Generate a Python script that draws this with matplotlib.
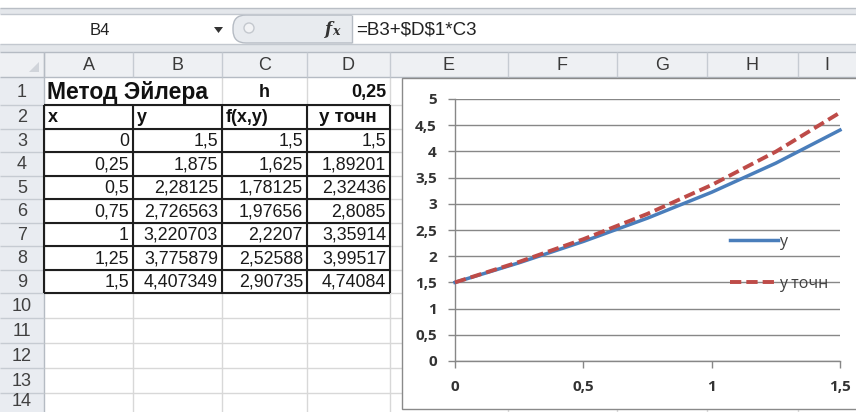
import numpy as np
import matplotlib.pyplot as plt
from matplotlib.patches import Rectangle, FancyBboxPatch, Circle, Polygon
from matplotlib.ticker import FuncFormatter

plt.rcParams['font.family'] = ['Liberation Sans', 'DejaVu Sans']

# метод Эйлера, шаг h
h = 0.25
x_vals = [0, 0.25, 0.5, 0.75, 1, 1.25, 1.5]
y_euler = [1.5, 1.875, 2.28125, 2.726563, 3.220703, 3.775879, 4.407349]
f_xy = [1.5, 1.625, 1.78125, 1.97656, 2.2207, 2.52588, 2.90735]
y_exact = [1.5, 1.89201, 2.32436, 2.8085, 3.35914, 3.99517, 4.74084]

col_letters = ['A', 'B', 'C', 'D', 'E', 'F', 'G', 'H', 'I']
headers = ['x', 'y', 'f(x,y)', 'y точн']
cell_ref = 'B4'
formula = '=B3+$D$1*C3'

W, H = 856, 412
col_edges = [44, 133, 222, 307, 390, 508, 617, 707, 798, 856]
row_edges = [77, 105] + [105 + 23.5 * k for k in range(1, 9)] + [293 + 25 * k for k in range(1, 6)]

chart_font = ['Open Sans', 'DejaVu Sans']


def fmt(v):
    return f"{v:.7g}".replace('.', ',')


fig = plt.figure(figsize=(W / 100, H / 100), dpi=100)
bg = fig.add_axes([0, 0, 1, 1])
bg.set_xlim(0, W)
bg.set_ylim(H, 0)
bg.axis('off')

# панель формул
bg.add_patch(Rectangle((0, 0), W, 8, fc='white', ec='none'))
bg.add_patch(Rectangle((0, 8), W, 6, fc='#E4E7EB', ec='none'))
bg.hlines(8, 0, W, color='#B9BEC5', lw=1)
bg.add_patch(Rectangle((0, 14), W, 30, fc='white', ec='none'))
bg.hlines([14, 44], 0, W, color='#C3C8CF', lw=1)
bg.add_patch(FancyBboxPatch((233, 15), 140, 28, boxstyle='round,pad=0,rounding_size=13',
                            fc='#E8EBEF', ec='#B5BBC3', lw=1))
bg.add_patch(Rectangle((352, 15), W - 352, 28.5, fc='white', ec='none'))
bg.vlines(352, 15, 43, color='#B5BBC3', lw=1)
bg.add_patch(Circle((249, 28), 5, fc='#F2F3F5', ec='#C4C8CE', lw=1))
bg.add_patch(Polygon([[214, 27], [223, 27], [218.5, 33]], closed=True, fc='#333333', ec='none'))
bg.text(100, 30, cell_ref, ha='center', va='center', fontsize=12, color='#222222')
bg.text(329, 29, 'f', ha='center', va='center', fontsize=12, family='DejaVu Serif',
        style='italic', weight='bold', color='#333333')
bg.text(336, 31, 'x', ha='center', va='center', fontsize=9, family='DejaVu Serif',
        style='italic', weight='bold', color='#333333')
bg.text(356, 30, formula, ha='left', va='center', fontsize=13.5, color='#222222', parse_math=False)
bg.add_patch(Rectangle((0, 44), W, 8, fc='#E3E6EA', ec='none'))

# заголовки столбцов и строк
bg.add_patch(Rectangle((0, 52), W, 25, fc='#EEF0F3', ec='none'))
bg.hlines([52, 77], 0, W, color='#B5BBC3', lw=1)
bg.vlines(col_edges[:-1], 52, 77, color='#C6CBD2', lw=1)
for i, letter in enumerate(col_letters):
    bg.text((col_edges[i] + col_edges[i + 1]) / 2, 65, letter, ha='center', va='center',
            fontsize=13, color='#3A3A3A')
bg.add_patch(Polygon([[39, 62], [39, 72], [29, 72]], closed=True, fc='#D0D4DA', ec='none'))
bg.add_patch(Rectangle((0, 77), 44, H - 77, fc='#E9ECF1', ec='none'))
bg.vlines(44, 52, H, color='#B5BBC3', lw=1)
bg.hlines(row_edges[1:], 0, 44, color='#C6CBD2', lw=1)
for r in range(14):
    yc = min((row_edges[r] + row_edges[r + 1]) / 2 + 1, 402)
    bg.text(22, yc, str(r + 1), ha='center', va='center', fontsize=13, color='#404040')

# сетка листа
bg.hlines(row_edges[1:], 44, W, color='#D8D8D8', lw=1, zorder=1)
for c in col_edges[1:-1]:
    top = 105 if c == 133 else 77
    bg.vlines(c, top, H, color='#D8D8D8', lw=1, zorder=1)

# таблица
tb_top, tb_bot = row_edges[1], row_edges[9]
bg.hlines(row_edges[1:10], 44, 390, color='#1E1E1E', lw=1.5, zorder=3)
bg.vlines(col_edges[:5], tb_top, tb_bot, color='#1E1E1E', lw=1.5, zorder=3)

bg.text(47, 92, 'Метод Эйлера', ha='left', va='center', fontsize=16.5, weight='bold', color='#111111')
bg.text(264.5, 92, 'h', ha='center', va='center', fontsize=13, weight='bold', color='#111111')
bg.text(386, 92, fmt(h), ha='right', va='center', fontsize=13, weight='bold', color='#111111')

row2_c = (row_edges[1] + row_edges[2]) / 2 + 1
bg.text(48, row2_c, headers[0], ha='left', va='center', fontsize=13, weight='bold', color='#111111')
bg.text(137, row2_c, headers[1], ha='left', va='center', fontsize=13, weight='bold', color='#111111')
bg.text(226, row2_c, headers[2], ha='left', va='center', fontsize=13, weight='bold', color='#111111')
bg.text(348, row2_c, headers[3], ha='center', va='center', fontsize=13.5, weight='bold', color='#111111')

columns = [x_vals, y_euler, f_xy, y_exact]
for k in range(len(x_vals)):
    yc = (row_edges[k + 2] + row_edges[k + 3]) / 2 + 1
    for j, col in enumerate(columns):
        bg.text(col_edges[j + 1] - 4, yc, fmt(col[k]), ha='right', va='center',
                fontsize=12.8, color='#1A1A1A')

# область диаграммы
bg.add_patch(Rectangle((402, 78), 480, 331, fc='white', ec='#8A8A8A', lw=1, zorder=4))

ax = fig.add_axes([455 / W, 1 - 361 / H, (840 - 455) / W, (361 - 99) / H])
ax.set_facecolor('none')
ax.plot(x_vals, y_euler, color='#4A7EBB', lw=2.5, label='y', clip_on=False, zorder=3)
ax.plot(x_vals, y_exact, color='#BE4B48', lw=2.8, dashes=[2.9, 1.3], label='y точн',
        clip_on=False, zorder=4)
ax.set_xlim(0, 1.5)
ax.set_ylim(0, 5)
ax.set_xticks([0, 0.5, 1, 1.5])
ax.set_yticks(np.arange(0, 5.01, 0.5))
ax.grid(axis='y', color='#878787', lw=1)
ax.set_axisbelow(True)
for s in ['top', 'right']:
    ax.spines[s].set_visible(False)
for s in ['left', 'bottom']:
    ax.spines[s].set_color('#878787')
    ax.spines[s].set_linewidth(1)
ax.xaxis.set_major_formatter(FuncFormatter(lambda v, _: fmt(v)))
ax.yaxis.set_major_formatter(FuncFormatter(lambda v, _: fmt(v)))
ax.tick_params(axis='both', direction='out', length=5, color='#878787', width=1,
               labelsize=11, labelcolor='#333333', labelfontfamily=chart_font)
ax.tick_params(axis='x', pad=9)
ax.tick_params(axis='y', pad=8)
fig.canvas.draw()
for lab in ax.get_xticklabels() + ax.get_yticklabels():
    lab.set_fontweight('bold')

leg = ax.legend(loc='upper left', bbox_to_anchor=(730 / W, 1 - 234 / H), bbox_transform=fig.transFigure,
                frameon=False, handlelength=3.0, handletextpad=0.1, labelspacing=1.6,
                borderpad=0, borderaxespad=0,
                prop={'family': chart_font, 'size': 11.5})
for t in leg.get_texts():
    t.set_color('#404040')

fig.savefig('out.png', dpi=100)
